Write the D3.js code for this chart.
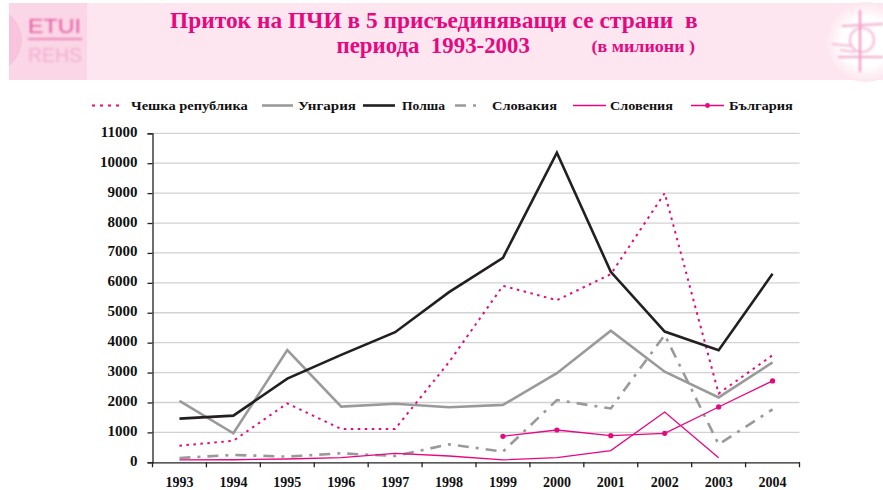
<!DOCTYPE html>
<html><head><meta charset="utf-8">
<script src="https://cdn.jsdelivr.net/npm/d3@7"></script>
<style>
html,body{margin:0;padding:0;background:#fff;}
svg{display:block;font-family:"Liberation Serif","Times New Roman",serif;}
text.pre{white-space:pre;}
</style></head>
<body>
<svg id="c" width="883" height="490"></svg>
<script>
const years = ["1993","1994","1995","1996","1997","1998","1999","2000","2001","2002","2003","2004"];
const yTicks = [0,1000,2000,3000,4000,5000,6000,7000,8000,9000,10000,11000];
const czech    = [555, 720, 1970, 1115, 1115, 3350, 5900, 5420, 6290, 9000, 2300, 3580];
const hungary  = [2050, 970, 3750, 1860, 1960, 1840, 1920, 2980, 4400, 3030, 2170, 3340];
const poland   = [1460, 1560, 2800, 3590, 4350, 5690, 6840, 10350, 6370, 4370, 3750, 6300];
const slovakia = [145, 245, 190, 300, 210, 600, 360, 2080, 1800, 4260, 600, 1770];
const slovenia = [80, 85, 110, 155, 300, 210, 80, 155, 390, 1680, 155, null];
const bulgaria = [null, null, null, null, null, null, 870, 1080, 890, 970, 1850, 2720];
const seriesNames = ["Чешка република","Унгария","Полша","Словакия","Словения","България"];
const titleLine1 = "Приток на ПЧИ в 5 присъединяващи се страни  в";
const titleLine2 = "периода  1993-2003";
const titleUnit = "(в милиони )";

const MAG = "#e8077f";
const series = [
  {name: seriesNames[0], values: czech,    color: MAG,       width: 2,   dash: "2.5,4.5", dots: false},
  {name: seriesNames[1], values: hungary,  color: "#9a9a9a", width: 2.6, dash: null,  dots: false},
  {name: seriesNames[2], values: poland,   color: "#231f20", width: 2.6, dash: null,  dots: false},
  {name: seriesNames[3], values: slovakia, color: "#9a9a9a", width: 2.6, dash: "11,7,3,7", dots: false},
  {name: seriesNames[4], values: slovenia, color: MAG,       width: 1.3, dash: null,  dots: false},
  {name: seriesNames[5], values: bulgaria, color: MAG,       width: 1.3, dash: null,  dots: true}
];

const svg = d3.select("#c");

// place text at (x, y) and squeeze/stretch it horizontally to a target width
function fitText(parent, str, x, y, w, size, attrs) {
  const t = parent.append("text").attr("class","pre").attr("font-size", size).text(str);
  Object.entries(attrs || {}).forEach(([k,v]) => t.attr(k, v));
  const nat = t.node().getComputedTextLength();
  t.attr("transform", `translate(${x},${y}) scale(${w / nat},1)`);
  return t;
}

// ---- header band ----
const defs = svg.append("defs");
defs.append("filter").attr("id","blur").append("feGaussianBlur").attr("stdDeviation",1.2);
defs.append("clipPath").attr("id","lc").append("rect").attr("x",9).attr("y",3).attr("width",78).attr("height",77);
defs.append("radialGradient").attr("id","glow").call(g => {
  g.append("stop").attr("offset","0.6").attr("stop-color","#ffffff");
  g.append("stop").attr("offset","1").attr("stop-color","#fde6ef");
});
const hdr = svg.append("g");
hdr.append("rect").attr("x",9).attr("y",3).attr("width",874).attr("height",77).attr("fill","#fde6ef");
hdr.append("rect").attr("x",9).attr("y",3).attr("width",78).attr("height",77).attr("fill","#fad6e6");
hdr.append("circle").attr("cx",-10).attr("cy",40).attr("r",32).attr("fill","#f8c3dc").attr("clip-path","url(#lc)");
const logoL = hdr.append("g").attr("filter","url(#blur)");
fitText(logoL, "ETUI", 28, 33, 53, 21, {"font-family":"Liberation Sans, Arial, sans-serif", fill:"#e45aa1"});
logoL.append("rect").attr("x",28).attr("y",38).attr("width",54).attr("height",2).attr("fill","#ec86b9");
fitText(logoL, "REHS", 28, 62, 54, 20, {"font-family":"Liberation Sans, Arial, sans-serif", fill:"#f3afd0"});
// right emblem
hdr.append("circle").attr("cx",866).attr("cy",42).attr("r",40).attr("fill","url(#glow)");
const rg = hdr.append("g").attr("filter","url(#blur)").attr("stroke-width",2.2).attr("fill","none");
rg.append("circle").attr("cx",862).attr("cy",40).attr("r",12).attr("stroke","#f6bcd7");
rg.append("line").attr("x1",860).attr("y1",10).attr("x2",860).attr("y2",72).attr("stroke","#ef95c1");
rg.append("line").attr("x1",842).attr("y1",26).attr("x2",883).attr("y2",24).attr("stroke","#f2a6ca");
rg.append("line").attr("x1",838).attr("y1",57).attr("x2",883).attr("y2",57).attr("stroke","#f2a6ca");
rg.append("line").attr("x1",832).attr("y1",44).attr("x2",852).attr("y2",46).attr("stroke","#f5b9d5");
rg.append("line").attr("x1",840).attr("y1",50).attr("x2",855).attr("y2",52).attr("stroke","#f5b9d5");

// ---- title ----
fitText(svg, titleLine1, 170, 27.7, 528, 22.5, {"font-weight":"bold", fill: MAG});
fitText(svg, titleLine2, 336.5, 53.3, 193.5, 22.5, {"font-weight":"bold", fill: MAG});
fitText(svg, titleUnit, 591.5, 52, 103.5, 17, {"font-weight":"bold", fill: MAG});

// ---- scales ----
const x = d3.scaleBand().domain(years).range([152.5, 799.5]);
const y = d3.scaleLinear().domain([0, 11000]).range([462.3, 133.3]);
const cx = d => x(d) + x.bandwidth()/2;

// gridlines
svg.append("g").selectAll("line").data(yTicks.filter(t => t > 0)).join("line")
  .attr("x1",152.5).attr("x2",799.5).attr("y1",d=>y(d)).attr("y2",d=>y(d))
  .attr("stroke","#d2d2d2").attr("stroke-width",1.3);

// axes
const yAxis = d3.axisLeft(y).tickValues(yTicks).tickSize(5).tickPadding(10).tickFormat(d3.format("d"));
const gy = svg.append("g").attr("transform","translate(152.5,0)").call(yAxis);
gy.selectAll("text").attr("font-family","Liberation Serif, serif").attr("font-size",15).attr("font-weight","bold").attr("fill","#111").attr("dy","0.2em");
gy.selectAll("line,path").attr("stroke","#222").attr("stroke-width",1.3);

const xAxis = d3.axisBottom(x).tickSize(0).tickPadding(15);
const gx = svg.append("g").attr("transform","translate(0,462.3)").call(xAxis);
gx.selectAll("text").attr("font-family","Liberation Serif, serif").attr("font-size",14).attr("font-weight","bold").attr("fill","#111");
gx.select("path").attr("stroke","#222").attr("stroke-width",1.3);
// x tick marks at band boundaries
const bounds = years.map(d => x(d)).concat([x(years[years.length-1]) + x.bandwidth()]);
gx.append("g").selectAll("line").data(bounds).join("line")
  .attr("x1",d=>d).attr("x2",d=>d).attr("y1",0).attr("y2",5).attr("stroke","#222").attr("stroke-width",1.3);

// ---- lines ----
const line = d3.line().defined(d => d.v != null).x(d => cx(d.year)).y(d => y(d.v));
const drawOrder = [3,4,5,1,0,2];
drawOrder.forEach(i => {
  const s = series[i];
  const pts = years.map((yr,j) => ({year: yr, v: s.values[j]}));
  svg.append("path").datum(pts).attr("d", line).attr("fill","none")
    .attr("stroke", s.color).attr("stroke-width", s.width)
    .attr("stroke-dasharray", s.dash).attr("stroke-linejoin","miter");
  if (s.dots) {
    svg.append("g").selectAll("circle").data(pts.filter(p => p.v != null)).join("circle")
      .attr("cx", p => cx(p.year)).attr("cy", p => y(p.v)).attr("r", 2.6).attr("fill", s.color);
  }
});

// ---- legend ----
const legendPos = [[92,123,131,117],[262,293,298,58],[363,395,402,43],[455,483,492,65],[573,606,610,63],[691,724,729,64]];
const lg = svg.append("g");
series.forEach((s,i) => {
  const [x1,x2,tx,tw] = legendPos[i];
  lg.append("line").attr("x1",x1).attr("x2",x2).attr("y1",105.5).attr("y2",105.5)
    .attr("stroke",s.color).attr("stroke-width",s.width).attr("stroke-dasharray", i===3 ? "11,7,3,20" : (i===0 ? "3,5" : null));
  if (s.dots) lg.append("circle").attr("cx",(x1+x2)/2).attr("cy",105.5).attr("r",2.4).attr("fill",s.color);
  fitText(lg, s.name, tx, 110, tw, 13, {"font-weight":"bold", fill:"#111"});
});
</script>
</body></html>
